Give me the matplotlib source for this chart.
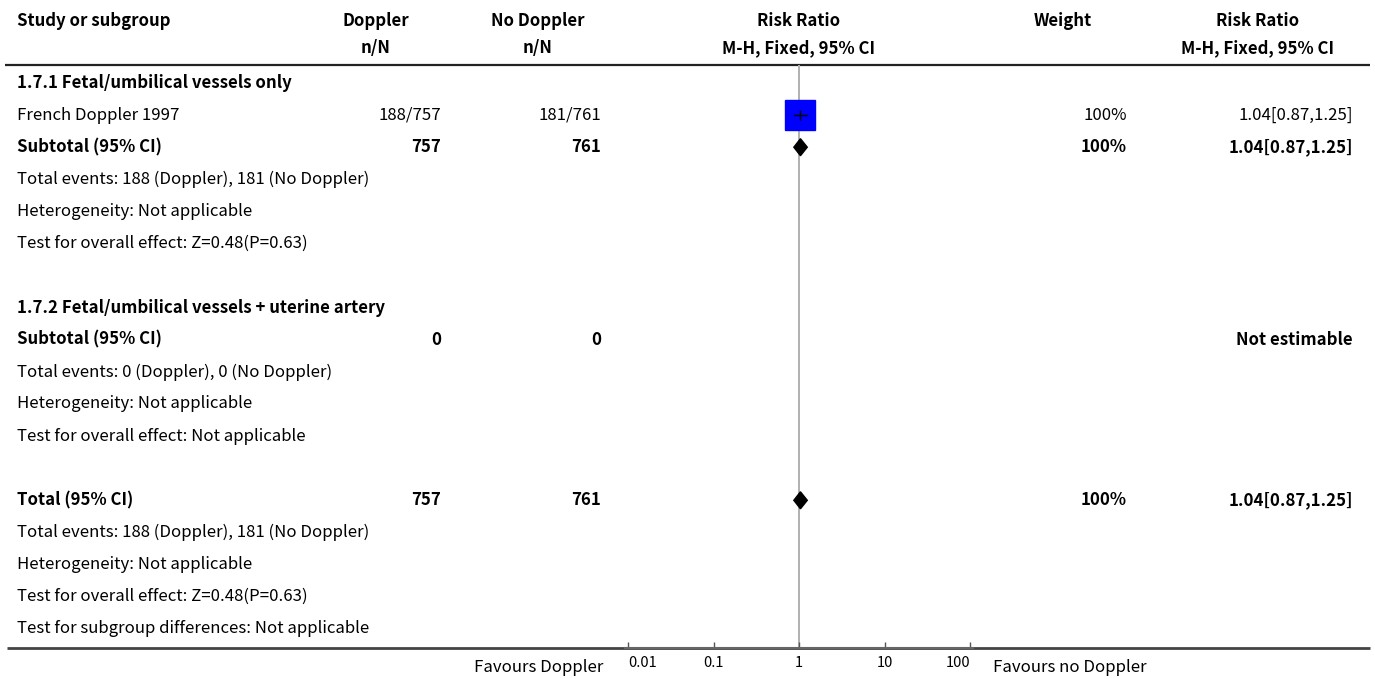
import numpy as np
import matplotlib
matplotlib.use('Agg')
from matplotlib import pyplot as plt

plt.rcParams['font.family'] = ['Noto Sans CJK SC', 'DejaVu Sans']

# 表格内容（每行一个）
labels = ['1.7.1 Fetal/umbilical vessels only',
          'French Doppler 1997',
          'Subtotal (95% CI)',
          'Total events: 188 (Doppler), 181 (No Doppler)',
          'Heterogeneity: Not applicable',
          'Test for overall effect: Z=0.48(P=0.63)',
          '',
          '1.7.2 Fetal/umbilical vessels + uterine artery',
          'Subtotal (95% CI)',
          'Total events: 0 (Doppler), 0 (No Doppler)',
          'Heterogeneity: Not applicable',
          'Test for overall effect: Not applicable',
          '',
          'Total (95% CI)',
          'Total events: 188 (Doppler), 181 (No Doppler)',
          'Heterogeneity: Not applicable',
          'Test for overall effect: Z=0.48(P=0.63)',
          'Test for subgroup differences: Not applicable']
bold_rows = [0, 2, 7, 8, 13]
doppler = {1: '188/757', 2: '757', 8: '0', 13: '757'}
no_doppler = {1: '181/761', 2: '761', 8: '0', 13: '761'}
weight = {1: '100%', 2: '100%', 13: '100%'}
rr_text = {1: '1.04[0.87,1.25]', 2: '1.04[0.87,1.25]', 8: 'Not estimable', 13: '1.04[0.87,1.25]'}

# 效应量
study_rows = [1]
study_rr = [1.04]
study_lo = [0.87]
study_hi = [1.25]
pooled_rows = [2, 13]
pooled_rr = [1.04, 1.04]
pooled_lo = [0.87, 0.87]
pooled_hi = [1.25, 1.25]

ticks = [0.01, 0.1, 1, 10, 100]
tick_labels = ['0.01', '0.1', '1', '10', '100']

W, H = 1375, 679
fig = plt.figure(figsize=(W / 100, H / 100), dpi=100)

# 文字层（像素坐标）
tab = fig.add_axes([0, 0, 1, 1])
tab.set_xlim(0, W)
tab.set_ylim(H, 0)
tab.axis('off')

ROW0, STEP = 83, 32.1
FS = 12.1


def row_y(i):
    return ROW0 + STEP * i


hdr = dict(fontsize=FS, fontweight='bold', va='center')
tab.text(17, 21, 'Study or subgroup', ha='left', **hdr)
tab.text(376, 21, 'Doppler', ha='center', **hdr)
tab.text(376, 48, 'n/N', ha='center', **hdr)
tab.text(538, 21, 'No Doppler', ha='center', **hdr)
tab.text(538, 48, 'n/N', ha='center', **hdr)
tab.text(799, 21, 'Risk Ratio', ha='center', **hdr)
tab.text(799, 48, 'M-H, Fixed, 95% CI', ha='center', **hdr)
tab.text(1063, 21, 'Weight', ha='center', **hdr)
tab.text(1258, 21, 'Risk Ratio', ha='center', **hdr)
tab.text(1258, 48, 'M-H, Fixed, 95% CI', ha='center', **hdr)

tab.plot([5, 1370], [65, 65], color='#222222', lw=1.6, solid_capstyle='butt')
tab.plot([7, 1370], [648, 648], color='#444444', lw=2, solid_capstyle='butt')

for i, lab in enumerate(labels):
    y = row_y(i)
    fw = 'bold' if i in bold_rows else 'normal'
    tab.text(17, y, lab, ha='left', va='center', fontsize=FS, fontweight=fw)
    if i in doppler:
        tab.text(441, y, doppler[i], ha='right', va='center', fontsize=FS, fontweight=fw)
    if i in no_doppler:
        tab.text(601, y, no_doppler[i], ha='right', va='center', fontsize=FS, fontweight=fw)
    if i in weight:
        tab.text(1127, y, weight[i], ha='right', va='center', fontsize=FS, fontweight=fw)
    if i in rr_text:
        tab.text(1353, y, rr_text[i], ha='right', va='center', fontsize=FS, fontweight=fw)

tab.text(603, 667, 'Favours Doppler', ha='right', va='center', fontsize=FS)
tab.text(993, 667, 'Favours no Doppler', ha='left', va='center', fontsize=FS)

# 森林图层
x0, x1 = 625, 973
dec = 85.5
y_top, y_bot = 65, 648
ax = fig.add_axes([x0 / W, 1 - y_bot / H, (x1 - x0) / W, (y_bot - y_top) / H])
ax.set_xscale('log')
ax.set_xlim(10 ** (-2 - 3 / dec), 10 ** (2 + 3 / dec))
ax.set_ylim((y_bot - ROW0) / STEP, (y_top - ROW0) / STEP)
ax.patch.set_alpha(0)
for s in ['top', 'left', 'right']:
    ax.spines[s].set_visible(False)
ax.spines['bottom'].set_color('#666666')
ax.spines['bottom'].set_linewidth(1.5)
ax.set_yticks([])
ax.set_xticks(ticks)
ax.set_xticklabels(tick_labels)
ax.minorticks_off()
ax.tick_params(axis='x', direction='in', length=4, width=1, color='#555555',
               labelsize=10.5, pad=6)
# 两端标签收在轴内
tl = ax.get_xticklabels()
tl[0].set_ha('left')
tl[-1].set_ha('right')

ax.axvline(1, color='#b0b0b0', lw=1.4, zorder=1)

ax.plot(study_rr, study_rows, 's', color='#0000ff', markersize=22.3, zorder=2)
for r, lo, hi, est in zip(study_rows, study_lo, study_hi, study_rr):
    ax.plot([lo, hi], [r, r], color='black', lw=1, zorder=3)
    ax.plot([est], [r], '|', color='black', markersize=6.5, mew=1, zorder=3)

h = 8.5 / STEP
for r, lo, hi, est in zip(pooled_rows, pooled_lo, pooled_hi, pooled_rr):
    ax.fill([lo, est, hi, est], [r, r - h, r, r + h], color='black', zorder=3)

fig.savefig('out.png', dpi=100)
